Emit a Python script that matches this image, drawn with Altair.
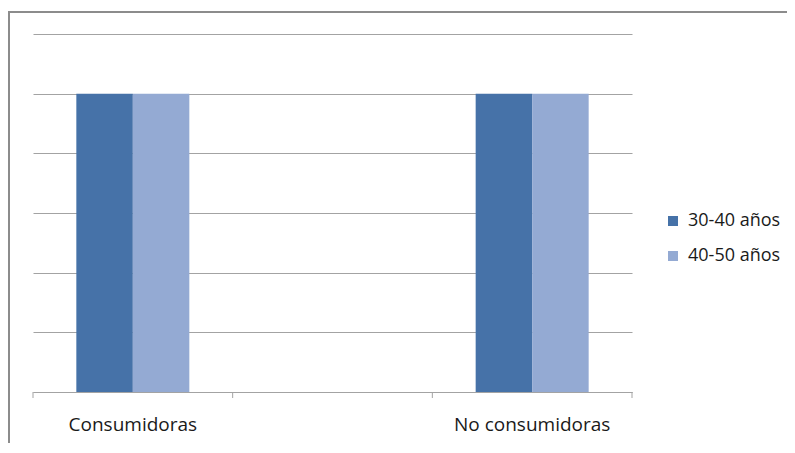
import altair as alt
import pandas as pd

categories = ["Consumidoras", "No consumidoras"]
axis_slots = ["Consumidoras", "·", "No consumidoras"]
series = ["30-40 años", "40-50 años"]
values_3040 = [5, 5]
values_4050 = [5, 5]
colors = ["#4672a8", "#94aad3"]
grid_values = [0, 1, 2, 3, 4, 5, 6]

rows = []
for i, c in enumerate(categories):
    rows.append({"cat": c, "serie": series[0], "valor": values_3040[i]})
    rows.append({"cat": c, "serie": series[1], "valor": values_4050[i]})
df = pd.DataFrame(rows)
slots = pd.DataFrame({"cat": axis_slots})
last = pd.DataFrame({"cat": [axis_slots[-1]]})
one = pd.DataFrame({"k": [0]})

W, H = 599, 358
GRAY = "#a3a3a3"
FONT = "Open Sans"
xscale = alt.Scale(domain=axis_slots, paddingInner=0, paddingOuter=0)
xaxis = alt.Axis(
    title=None,
    labelExpr="datum.value == '·' ? '' : datum.value",
    ticks=False,
    domain=True,
    domainColor=GRAY,
    labelFontSize=19,
    labelPadding=23,
    labelAngle=0,
    labelColor="#1a1a1a",
    labelFont=FONT,
)

bars = alt.Chart(df).mark_bar().encode(
    x=alt.X("cat:N", scale=xscale, axis=xaxis),
    xOffset=alt.XOffset(
        "serie:N", scale=alt.Scale(domain=series, paddingInner=0, paddingOuter=0.767)
    ),
    y=alt.Y(
        "valor:Q",
        scale=alt.Scale(domain=[0, 6], nice=False),
        axis=alt.Axis(
            title=None,
            values=grid_values,
            labels=False,
            ticks=False,
            domain=False,
            grid=True,
            gridColor=GRAY,
        ),
    ),
    color=alt.Color(
        "serie:N",
        scale=alt.Scale(domain=series, range=colors),
        legend=alt.Legend(
            title=None,
            orient="none",
            legendX=631,
            legendY=178,
            symbolType="square",
            symbolSize=100,
            symbolStrokeWidth=0,
            labelFontSize=18,
            labelFont=FONT,
            labelColor="#1a1a1a",
            rowPadding=17,
            labelOffset=6,
        ),
    ),
)

ticks_rule = alt.Chart(slots).mark_rule(color=GRAY).encode(
    x=alt.X("cat:N", bandPosition=0, scale=xscale, axis=xaxis),
    y=alt.value(H),
    y2=alt.value(H + 6),
)
ticks_end = alt.Chart(last).mark_rule(color=GRAY).encode(
    x=alt.X("cat:N", bandPosition=1, scale=xscale, axis=xaxis),
    y=alt.value(H),
    y2=alt.value(H + 6),
)
frame = alt.Chart(one).mark_rect(filled=False, stroke="#8c8c8c", strokeWidth=2).encode(
    x=alt.value(-24),
    x2=alt.value(W + 200),
    y=alt.value(-22),
    y2=alt.value(H + 90),
)

chart = (
    alt.layer(frame, bars, ticks_rule, ticks_end)
    .properties(
        width=W,
        height=H,
        autosize=alt.AutoSizeParams(type="none"),
        padding={"left": 25, "top": 26, "right": 155, "bottom": 51},
        background="white",
    )
    .configure_view(stroke=None)
)

chart.save("out.html", embed_options={"renderer": "svg", "actions": False})
